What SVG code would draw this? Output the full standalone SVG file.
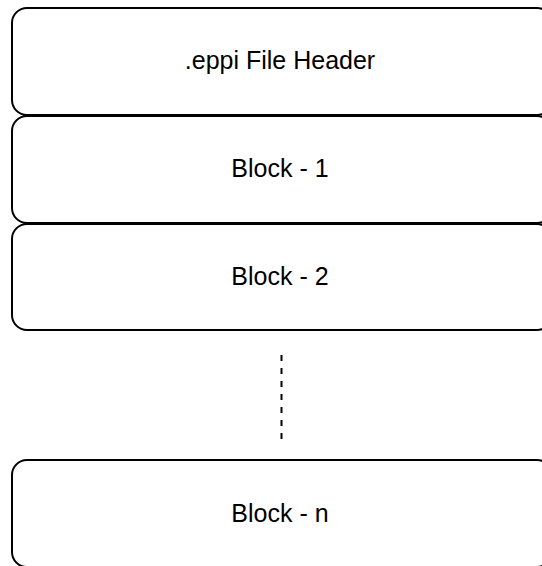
<svg xmlns="http://www.w3.org/2000/svg" width="542" height="566" viewBox="0 0 542 566">
  <style>
    .box { fill: #ffffff; stroke: #000000; stroke-width: 2; }
    .label { font-family: "Liberation Sans", Arial, Helvetica, sans-serif; font-size: 25px; fill: #000000; text-anchor: middle; }
    .dash { stroke: #000000; stroke-width: 2; stroke-dasharray: 6 7; fill: none; }
  </style>
  <rect width="542" height="566" fill="#ffffff"/>
  <g id="header">
    <rect class="box" x="12" y="8" width="540" height="107" rx="15" ry="15"/>
    <text class="label" x="280" y="69">.eppi File Header</text>
  </g>
  <g id="block-1">
    <rect class="box" x="12" y="116" width="540" height="107" rx="15" ry="15"/>
    <text class="label" x="280" y="177">Block - 1</text>
  </g>
  <g id="block-2">
    <rect class="box" x="12" y="224" width="540" height="106" rx="15" ry="15"/>
    <text class="label" x="280" y="285">Block - 2</text>
  </g>
  <g id="block-n">
    <rect class="box" x="12" y="460" width="540" height="107" rx="15" ry="15"/>
    <text class="label" x="280" y="522">Block - n</text>
  </g>
  <g id="connectors">
    <line class="dash" x1="281.5" y1="355" x2="281.5" y2="440"/>
  </g>
</svg>
